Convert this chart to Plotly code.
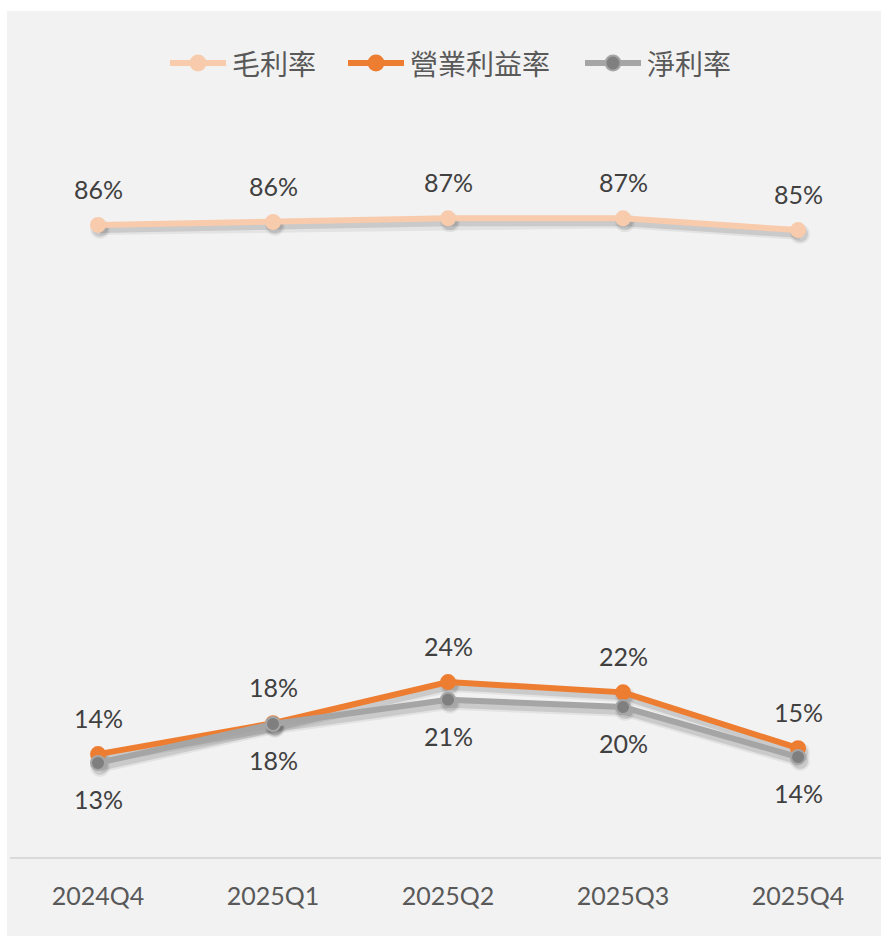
import plotly.graph_objects as go

categories = ["2024Q4", "2025Q1", "2025Q2", "2025Q3", "2025Q4"]
gross_margin = [86.0, 86.4, 86.9, 86.9, 85.3]
operating_margin = [14.0, 18.2, 23.8, 22.4, 14.8]
net_margin = [12.8, 18.1, 21.4, 20.4, 13.6]
series_names = ["毛利率", "營業利益率", "淨利率"]

W, H = 881, 936
ML, MR, MT, MB = 10, 0, 100, 79
PW, PH = W - ML - MR, H - MT - MB
YMAX = 103.0
XR = [-0.503, 4.474]
px_y = PH / YMAX
px_x = PW / (XR[1] - XR[0])
sdx, sdy = 2 / px_x, 4 / px_y

colors = ["#f8cbad", "#ed7d31", "#a5a5a5"]
marker_fill = ["#f8cbad", "#ed7d31", "#7f7f7f"]
marker_line = ["#f8cbad", "#ed7d31", "#a5a5a5"]
series = [gross_margin, operating_margin, net_margin]
label_side = [1, 1, -1]

def fx(p):  # page px -> paper x
    return (p - ML) / PW

def fy(p):  # page px -> paper y
    return (H - MB - p) / PH

fig = go.Figure()

# soft shadows (main axes, range shifted so they appear offset)
for vals in series:
    for w, a in [(12, 0.06), (8, 0.11)]:
        fig.add_trace(go.Scatter(
            x=categories, y=vals, mode="lines+markers",
            line=dict(color=f"rgba(0,0,0,{a})", width=w),
            marker=dict(size=14 + w - 6, color=f"rgba(0,0,0,{a})"),
            showlegend=False, hoverinfo="skip", xaxis="x", yaxis="y"))

for name, vals, c, mf, ml in zip(series_names, series, colors, marker_fill, marker_line):
    fig.add_trace(go.Scatter(
        x=categories, y=vals, name=name, mode="lines+markers",
        line=dict(color=c, width=6),
        marker=dict(size=14, color=mf, line=dict(color=ml, width=2)),
        showlegend=False, xaxis="x2", yaxis="y2"))

annotations = []
for vals, side in zip(series, label_side):
    for cat, v in zip(categories, vals):
        annotations.append(dict(
            x=cat, y=v, xref="x2", yref="y2", text=f"{round(v)}%",
            showarrow=False, yshift=36 * side,
            font=dict(family="Lato", size=25, color="#404040")))

shapes = [dict(type="rect", xref="paper", yref="paper", layer="below",
               x0=fx(7), x1=fx(W + 5), y0=fy(H + 5), y1=fy(11),
               fillcolor="#f2f2f2", line=dict(width=0))]

# custom legend
legend_x = [170, 348, 585]
legend_y = 63
line_len, r = 56, 7.5
for name, x0, c, mf, ml in zip(series_names, legend_x, colors, marker_fill, marker_line):
    shapes.append(dict(type="line", xref="paper", yref="paper",
                       x0=fx(x0), x1=fx(x0 + line_len), y0=fy(legend_y), y1=fy(legend_y),
                       line=dict(color=c, width=6)))
    cx = x0 + line_len / 2
    shapes.append(dict(type="circle", xref="paper", yref="paper",
                       x0=fx(cx - r), x1=fx(cx + r), y0=fy(legend_y + r), y1=fy(legend_y - r),
                       fillcolor=mf, line=dict(color=ml, width=2)))
    annotations.append(dict(x=fx(x0 + line_len + 4), y=fy(legend_y), xref="paper", yref="paper",
                            xanchor="left", yanchor="middle", text=name, showarrow=False,
                            font=dict(family="Noto Sans CJK TC", size=28, color="#595959")))

fig.update_layout(
    width=W, height=H,
    margin=dict(l=ML, r=MR, t=MT, b=MB),
    paper_bgcolor="white", plot_bgcolor="rgba(0,0,0,0)",
    showlegend=False,
    xaxis=dict(type="category", range=[XR[0] - sdx, XR[1] - sdx], visible=False,
               categoryorder="array", categoryarray=categories),
    yaxis=dict(range=[sdy, YMAX + sdy], visible=False),
    xaxis2=dict(type="category", range=XR, overlaying="x", anchor="y2",
                categoryorder="array", categoryarray=categories,
                showline=True, linecolor="#d9d9d9", linewidth=2,
                showgrid=False, zeroline=False, ticks="",
                ticklabelstandoff=16,
                tickfont=dict(family="Lato", size=25, color="#595959")),
    yaxis2=dict(range=[0, YMAX], overlaying="y", visible=False,
                showgrid=False, zeroline=False),
    annotations=annotations,
    shapes=shapes,
)

fig.write_html("out.html", config={"displayModeBar": False},
               post_script="document.body.style.margin='0';document.body.style.overflow='hidden';")
